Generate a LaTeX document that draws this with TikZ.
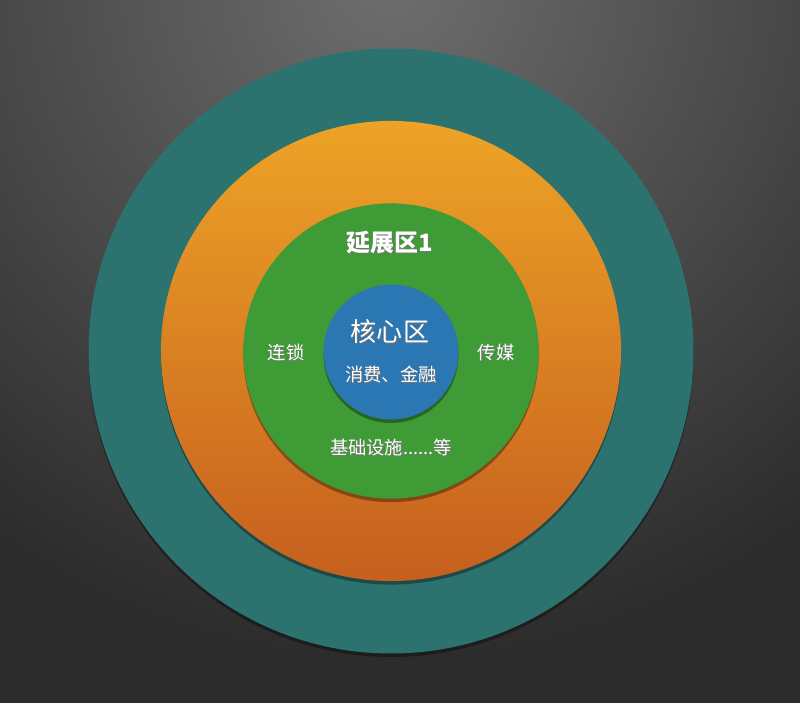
\documentclass[tikz,border=0pt]{standalone}
\usepackage{fontspec}
\setmainfont{Noto Sans CJK SC}
\usetikzlibrary{shadows}

\definecolor{bgLight}{HTML}{6E6E6E}
\definecolor{bgDark}{HTML}{2B2B2B}
\definecolor{tealRing}{HTML}{2C7370}
\definecolor{orangeTop}{HTML}{EDA326}
\definecolor{orangeBot}{HTML}{C65F1F}
\definecolor{greenRing}{HTML}{3E9B35}
\definecolor{blueCore}{HTML}{2A77B3}

% white text with a dark shadow under it
\newcommand{\shadowed}[1]{\makebox[0pt][l]{\raisebox{-0.9pt}{\hspace{0.6pt}\color{black!55}#1}}#1}

\begin{document}
\begin{tikzpicture}[x=0.025cm, y=-0.025cm,
disc/.style ={circle, draw=none, inner sep=0pt,
  drop shadow={shadow xshift=0pt, shadow yshift=-2.5pt, opacity=0.35, fill=black}},
ringtext/.style ={text=white, inner sep=1pt, font=\fontsize{13pt}{15pt}\selectfont}]
\useasboundingbox (0,0) rectangle (800,702);
% background
\fill[bgDark] (-5,-5) rectangle (805,707);
\begin{scope}
\clip (0,0) rectangle (800,702);
\shade[inner color=bgLight, outer color=bgDark] (390,-20) circle (690);
\end{scope}
% rings
\node[disc, fill=tealRing, minimum size=15.12cm] (outer) at (391,351) {};
\node[disc, top color=orangeTop, bottom color=orangeBot, minimum size=11.5cm] (middle) at (391,351) {};
\node[disc, fill=greenRing, minimum size=7.38cm] (inner) at (391,351) {};
\node[disc, fill=blueCore, minimum size=3.37cm] (core) at (391,352) {};
% texts
\node[ringtext, font=\bfseries\fontsize{17pt}{19pt}\selectfont] (ext) at (390,243) {\shadowed{延展区1}};
\node[ringtext, font=\fontsize{18.5pt}{20pt}\selectfont] (coretitle) at (390,332) {\shadowed{核心区}};
\node[ringtext] (coresub) at (391,375) {\shadowed{消费、金融}};
\node[ringtext] (left) at (286,353) {\shadowed{连锁}};
\node[ringtext] (right) at (496,353) {\shadowed{传媒}};
\node[ringtext] (bottom) at (391,448) {\shadowed{基础设施......等}};
\end{tikzpicture}
\end{document}
